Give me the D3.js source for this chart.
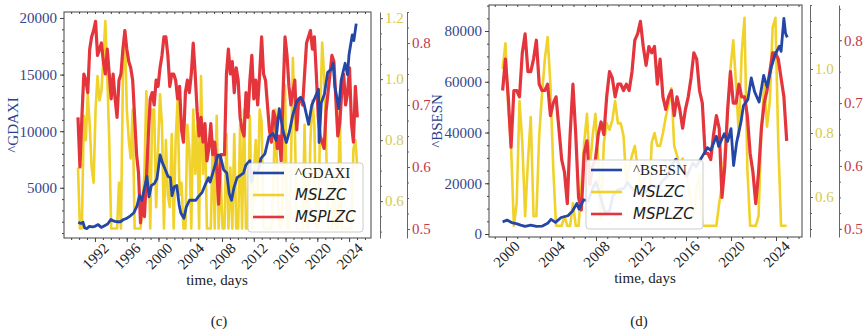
<!DOCTYPE html>
<html>
<head>
<meta charset="utf-8">
<script src="https://cdn.jsdelivr.net/npm/d3@7"></script>
<style>
  body { margin: 0; background: #fff; }
  svg { display: block; }
</style>
</head>
<body>
<div id="chart"></div>
<script>
// ---- panel (c): ^GDAXI ----
const gdaxiIndex = [
  [1989.9,1950],[1990.2,1850],[1990.5,1950],[1990.7,1450],[1991.0,1400],[1991.3,1600],[1991.7,1550],
  [1992.0,1600],[1992.4,1750],[1992.8,1500],[1993.2,1650],[1993.6,1800],[1994.0,2200],[1994.4,2050],
  [1994.8,2000],[1995.2,2000],[1995.6,2200],[1996.0,2300],[1996.5,2550],[1996.9,2800],[1997.3,3400],
  [1997.6,4300],[1997.9,3900],[1998.3,5200],[1998.55,6000],[1998.8,4200],[1999.1,5200],[1999.5,5400],
  [1999.8,5800],[2000.0,6800],[2000.2,7900],[2000.5,7200],[2000.8,6700],[2001.2,6000],[2001.5,5900],
  [2001.7,4300],[2002.0,5100],[2002.3,5200],[2002.6,3500],[2002.8,2800],[2003.2,2300],[2003.5,3300],
  [2003.9,3900],[2004.3,3900],[2004.7,3900],[2005.0,4200],[2005.5,4600],[2005.9,5300],[2006.3,5900],
  [2006.5,5500],[2007.0,6700],[2007.5,7900],[2007.8,7800],[2008.2,6600],[2008.6,6300],[2008.9,4500],
  [2009.2,3900],[2009.5,5000],[2009.9,5900],[2010.3,6100],[2010.7,6300],[2011.0,7000],[2011.5,7400],
  [2011.7,5500],[2012.0,6500],[2012.5,6300],[2012.9,7600],[2013.4,8000],[2013.9,9500],[2014.4,9800],
  [2014.8,9200],[2015.2,12000],[2015.7,10000],[2016.1,9000],[2016.5,10000],[2016.9,11400],[2017.4,12600],
  [2017.9,13000],[2018.3,12500],[2018.9,10600],[2019.3,12300],[2019.9,13300],[2020.15,13700],[2020.22,9000],
  [2020.5,12500],[2020.9,13300],[2021.3,15200],[2021.8,15500],[2022.0,16000],[2022.2,14000],[2022.7,12000],
  [2023.0,14500],[2023.5,16000],[2023.8,15000],[2024.0,16800],[2024.4,18500],[2024.6,18000],[2024.9,19500]
];
const gdaxiStart = 1989.86, gdaxiStep = 0.246;
const gdaxiMSLZC = [
  0.71,0.51,0.51,0.88,0.80,0.95,0.85,0.71,0.66,0.90,
  1.01,0.93,0.96,1.07,1.19,1.01,0.80,0.51,0.51,0.51,
  0.51,0.66,0.51,1.01,1.16,0.90,0.80,0.74,0.90,0.51,
  0.51,0.51,0.51,0.58,0.69,0.96,0.80,0.51,0.90,0.90,
  0.58,0.77,0.95,0.85,0.51,0.80,0.62,0.58,0.82,0.51,
  0.80,0.93,0.62,0.66,0.51,0.51,0.85,0.77,0.51,0.90,
  0.69,0.85,0.51,1.01,0.69,0.85,0.51,0.51,0.51,0.80,
  0.51,0.88,0.51,0.69,0.51,0.51,0.82,0.51,0.71,0.51,
  0.82,0.51,0.51,0.85,0.51,0.90,0.51,0.51,0.88,0.51,
  0.69,0.80,0.62,0.90,0.86,0.51,0.51,0.51,0.51,0.51,
  0.66,0.90,0.69,0.51,0.51,0.66,0.98,0.51,0.51,0.71,
  1.07,0.85,0.51,0.51,0.51,0.51,0.85,0.51,0.51,0.80,
  0.93,0.85,0.51,0.51,0.88,1.12,1.01,0.80,0.51,0.51,
  0.51,0.69,0.51,0.51,0.90,0.51,0.51,0.51,0.51,0.51,
  0.51,0.77,0.80,0.71
];
const gdaxiMSPLZC = [
  0.68,0.60,0.68,0.75,0.74,0.72,0.79,0.81,0.82,0.835,
  0.78,0.79,0.80,0.77,0.75,0.79,0.75,0.71,0.75,0.71,
  0.68,0.74,0.75,0.79,0.82,0.79,0.77,0.76,0.74,0.68,
  0.62,0.59,0.51,0.55,0.52,0.58,0.65,0.71,0.72,0.70,
  0.74,0.73,0.76,0.78,0.81,0.81,0.78,0.73,0.75,0.75,
  0.74,0.71,0.73,0.66,0.64,0.72,0.74,0.72,0.75,0.80,
  0.75,0.69,0.65,0.68,0.64,0.67,0.61,0.63,0.67,0.62,
  0.64,0.60,0.54,0.62,0.62,0.62,0.75,0.79,0.75,0.77,
  0.72,0.76,0.74,0.68,0.66,0.65,0.72,0.68,0.74,0.78,
  0.71,0.74,0.70,0.75,0.81,0.75,0.74,0.70,0.66,0.64,
  0.69,0.68,0.63,0.65,0.61,0.72,0.81,0.78,0.73,0.70,
  0.72,0.74,0.66,0.71,0.71,0.70,0.75,0.80,0.81,0.82,
  0.79,0.81,0.75,0.68,0.65,0.64,0.63,0.69,0.72,0.75,
  0.78,0.77,0.71,0.65,0.67,0.72,0.75,0.70,0.72,0.76,
  0.67,0.64,0.73,0.68
];
const gdaxiYears = [1992, 1996, 2000, 2004, 2008, 2012, 2016, 2020, 2024];
const gdaxiLeftTicks = [5000, 10000, 15000, 20000];
const gdaxiMslzcTicks = [0.6, 0.8, 1.0, 1.2];

// ---- panel (d): ^BSESN ----
const bsesnIndex = [
  [1999.7,4800],[2000.1,5500],[2000.5,4500],[2001.0,4000],[2001.3,3500],[2001.7,3000],[2002.2,3500],
  [2002.7,3000],[2003.2,3100],[2003.7,4200],[2004.0,5800],[2004.4,4600],[2004.9,6500],[2005.5,7200],
  [2005.9,9000],[2006.3,12000],[2006.5,9800],[2006.9,13500],[2007.3,13000],[2007.8,19000],[2008.0,20500],
  [2008.3,16000],[2008.8,8500],[2009.2,9000],[2009.5,15000],[2009.9,17300],[2010.5,18000],[2010.8,20300],
  [2011.2,18000],[2011.8,16000],[2012.0,15500],[2012.4,16500],[2012.9,19300],[2013.3,18500],[2013.6,18600],
  [2013.9,21000],[2014.3,22500],[2014.7,27000],[2015.1,29500],[2015.7,25000],[2016.1,23000],[2016.6,28000],
  [2016.9,26500],[2017.5,31000],[2017.9,34000],[2018.2,33000],[2018.7,38500],[2018.9,34500],[2019.4,39500],
  [2019.7,36500],[2020.0,41500],[2020.23,27000],[2020.5,36000],[2020.9,44500],[2021.1,50500],[2021.5,53000],
  [2021.8,61500],[2022.1,56000],[2022.5,52000],[2022.9,62500],[2023.2,58000],[2023.6,66000],[2023.9,70500],
  [2024.3,74000],[2024.45,72000],[2024.7,85000],[2024.85,79000],[2025.0,77500]
];
const bsesnStart = 1999.7, bsesnStep = 0.25;
const bsesnMSLZC = [
  1.00,1.08,0.88,0.76,0.51,0.58,0.90,0.77,0.54,0.71,
  0.85,0.54,0.54,0.79,0.92,1.03,1.10,0.95,0.69,0.51,
  0.51,0.51,0.54,0.51,0.51,0.58,0.51,0.51,0.63,0.77,
  0.86,0.69,0.79,0.86,0.71,0.53,0.77,0.83,0.81,0.84,
  0.90,0.83,0.83,0.79,0.64,0.69,0.73,0.76,0.69,0.63,
  0.57,0.54,0.56,0.77,0.80,0.76,0.76,0.80,0.85,0.89,
  0.94,0.76,0.73,0.69,0.72,0.67,0.64,0.58,0.54,0.63,
  0.67,0.51,0.51,0.51,0.51,0.51,0.51,0.58,0.64,0.74,
  0.86,1.00,1.09,0.95,0.79,1.05,1.16,0.69,0.51,0.51,
  0.51,0.54,0.81,0.95,0.82,0.90,1.13,1.16,0.77,0.51,
  0.51,0.51
];
const bsesnMSPLZC = [
  0.72,0.77,0.71,0.63,0.72,0.72,0.71,0.78,0.81,0.75,
  0.75,0.77,0.80,0.73,0.72,0.72,0.73,0.68,0.70,0.71,
  0.66,0.61,0.59,0.54,0.65,0.73,0.65,0.55,0.53,0.62,
  0.64,0.57,0.60,0.61,0.65,0.67,0.65,0.71,0.75,0.74,
  0.71,0.73,0.73,0.72,0.73,0.72,0.75,0.80,0.81,0.83,
  0.79,0.76,0.79,0.78,0.79,0.73,0.77,0.71,0.69,0.71,
  0.72,0.68,0.71,0.69,0.66,0.69,0.71,0.74,0.78,0.77,
  0.72,0.70,0.62,0.62,0.61,0.65,0.68,0.66,0.55,0.60,
  0.69,0.75,0.70,0.70,0.73,0.71,0.71,0.68,0.62,0.59,
  0.54,0.59,0.66,0.70,0.72,0.75,0.78,0.78,0.77,0.74,
  0.71,0.64
];
const bsesnYears = [2000, 2004, 2008, 2012, 2016, 2020, 2024];
const bsesnLeftTicks = [0, 20000, 40000, 60000, 80000];
const bsesnMslzcTicks = [0.6, 0.8, 1.0];

const msplzcTicks = [0.5, 0.6, 0.7, 0.8];

// colours / fonts
const cBlue = "#2446a6", cYellow = "#f0d22a", cRed = "#e4343c";
const serif = "'Liberation Serif', 'DejaVu Serif', serif";
const sans = "'DejaVu Sans', 'Liberation Sans', sans-serif";

const svg = d3.select("#chart").append("svg")
  .attr("width", 866)
  .attr("height", 332);

const toSeries = (vals, start, step) => vals.map((v, i) => [start + i * step, v]);

function renderPanel(p) {
  const g = svg.append("g");
  const x = d3.scaleLinear().domain(p.xDomain).range([p.left, p.right]);
  const yL = d3.scaleLinear().domain(p.leftDomain).range([p.bottom, p.top]);
  const yY = d3.scaleLinear().domain(p.yellowDomain).range([p.bottom, p.top]);
  const yR = d3.scaleLinear().domain(p.redDomain).range([p.bottom, p.top]);

  const clipId = "clip-" + p.id;
  svg.append("clipPath").attr("id", clipId)
    .append("rect")
    .attr("x", p.left).attr("y", p.top)
    .attr("width", p.right - p.left).attr("height", p.bottom - p.top);

  // lines
  const lines = g.append("g").attr("clip-path", `url(#${clipId})`);
  const line = ys => d3.line().x(d => x(d[0])).y(d => ys(d[1]));
  lines.append("path")
    .datum(toSeries(p.yellow, p.start, p.step))
    .attr("fill", "none").attr("stroke", cYellow).attr("stroke-width", 2.6)
    .attr("stroke-linejoin", "round")
    .attr("d", line(yY));
  lines.append("path")
    .datum(toSeries(p.red, p.start, p.step))
    .attr("fill", "none").attr("stroke", cRed).attr("stroke-width", 3.2)
    .attr("stroke-linejoin", "round")
    .attr("d", line(yR));
  lines.append("path")
    .datum(p.blue)
    .attr("fill", "none").attr("stroke", cBlue).attr("stroke-width", 2.8)
    .attr("stroke-linejoin", "round")
    .attr("d", line(yL));

  // frame
  g.append("rect")
    .attr("x", p.left).attr("y", p.top)
    .attr("width", p.right - p.left).attr("height", p.bottom - p.top)
    .attr("fill", "none").attr("stroke", "#444").attr("stroke-width", 1);

  // left axis
  const leftMinor = d3.range(p.leftDomain[0], p.leftDomain[1], 1).filter(v => v % p.leftMinor === 0 && v >= 0);
  g.append("g").attr("transform", `translate(${p.left},0)`)
    .call(d3.axisLeft(yL).tickValues(leftMinor).tickSize(2).tickSizeOuter(0).tickFormat(""))
    .call(a => a.select(".domain").remove())
    .selectAll("line").attr("stroke", "#444");
  const lAxis = g.append("g").attr("transform", `translate(${p.left},0)`)
    .call(d3.axisLeft(yL).tickValues(p.leftTicks).tickSize(4).tickSizeOuter(0).tickFormat(d3.format("d")));
  lAxis.select(".domain").remove();
  lAxis.selectAll("line").attr("stroke", "#444");
  lAxis.selectAll("text")
    .attr("font-family", serif).attr("font-size", 15).attr("fill", "#34468c");

  // bottom axis
  const yearsAll = d3.range(Math.ceil(p.xDomain[0]), Math.floor(p.xDomain[1]) + 1);
  g.append("g").attr("transform", `translate(0,${p.bottom})`)
    .call(d3.axisBottom(x).tickValues(yearsAll).tickSize(2).tickSizeOuter(0).tickFormat(""))
    .call(a => a.select(".domain").remove())
    .selectAll("line").attr("stroke", "#444");
  g.append("g").attr("transform", `translate(0,${p.top})`)
    .call(d3.axisTop(x).tickValues(yearsAll).tickSize(-2).tickSizeOuter(0).tickFormat(""))
    .call(a => a.select(".domain").remove())
    .selectAll("line").attr("stroke", "#444");
  const bAxis = g.append("g").attr("transform", `translate(0,${p.bottom})`)
    .call(d3.axisBottom(x).tickValues(p.years).tickSize(4).tickSizeOuter(0).tickFormat(d3.format("d")));
  bAxis.select(".domain").remove();
  bAxis.selectAll("line").attr("stroke", "#444");
  bAxis.selectAll("text")
    .attr("y", 0).attr("dy", "0.35em")
    .attr("transform", `translate(0,${p.labelDrop}) rotate(-45)`)
    .attr("text-anchor", "middle")
    .attr("font-family", serif).attr("font-size", 15).attr("fill", "#222");

  // right axes (MSLZC, MSPLZC)
  const rightAxis = (scale, xPos, ticks, minorStep, color) => {
    const minor = d3.range(0, 60).map(i => +(0.4 + i * minorStep).toFixed(3))
      .filter(v => v >= scale.domain()[0] && v <= scale.domain()[1]);
    g.append("g").attr("transform", `translate(${xPos},0)`)
      .call(d3.axisRight(scale).tickValues(minor).tickSize(2).tickSizeOuter(0).tickFormat(""))
      .call(a => a.select(".domain").attr("stroke", "#666"))
      .selectAll("line").attr("stroke", "#666");
    const ax = g.append("g").attr("transform", `translate(${xPos},0)`)
      .call(d3.axisRight(scale).tickValues(ticks).tickSize(3).tickSizeOuter(0).tickFormat(d3.format(".1f")));
    ax.select(".domain").remove();
    ax.selectAll("line").attr("stroke", "#666");
    ax.selectAll("text")
      .attr("x", 5)
      .attr("font-family", serif).attr("font-size", 15).attr("fill", color);
  };
  rightAxis(yY, p.yellowAxisX, p.yellowTicks, 0.05, "#d6cc4e");
  rightAxis(yR, p.redAxisX, msplzcTicks, 0.025, "#c43848");

  // left axis title
  g.append("text")
    .attr("transform", `translate(${p.leftTitleX},${(p.top + p.bottom) / 2}) rotate(-90)`)
    .attr("text-anchor", "middle")
    .attr("font-family", serif).attr("font-size", 15).attr("fill", "#2c3f8c")
    .text(p.name);

  // x axis title
  g.append("text")
    .attr("x", p.xTitleX).attr("y", p.xTitleY)
    .attr("text-anchor", "middle")
    .attr("font-family", serif).attr("font-size", 15).attr("fill", "#222")
    .text("time, days");

  // caption
  g.append("text")
    .attr("x", p.captionX).attr("y", 326)
    .attr("text-anchor", "middle")
    .attr("font-family", serif).attr("font-size", 15).attr("fill", "#222")
    .text(p.caption);

  // legend
  const lg = g.append("g").attr("transform", `translate(${p.legend[0]},${p.legend[1]})`);
  lg.append("rect")
    .attr("width", p.legend[2]).attr("height", p.legend[3])
    .attr("rx", 3)
    .attr("fill", "#fff").attr("fill-opacity", 0.9)
    .attr("stroke", "#ccc");
  const items = [
    { label: p.name, color: cBlue, font: serif, style: "normal" },
    { label: "MSLZC", color: cYellow, font: sans, style: "italic" },
    { label: "MSPLZC", color: cRed, font: sans, style: "italic" }
  ];
  lg.selectAll("line.key").data(items).join("line")
    .attr("class", "key")
    .attr("x1", 5).attr("x2", 36)
    .attr("y1", (d, i) => 10 + i * 22).attr("y2", (d, i) => 10 + i * 22)
    .attr("stroke", d => d.color).attr("stroke-width", 2.6);
  lg.selectAll("text.key").data(items).join("text")
    .attr("class", "key")
    .attr("x", 47)
    .attr("y", (d, i) => 10 + i * 22)
    .attr("dy", "0.35em")
    .attr("font-family", d => d.font)
    .attr("font-style", d => d.style)
    .attr("font-size", 15)
    .attr("fill", "#222")
    .text(d => d.label);
}

renderPanel({
  id: "c", name: "^GDAXI", caption: "(c)",
  left: 64, right: 371, top: 12, bottom: 238,
  xDomain: [1988.1, 2026.76],
  leftDomain: [565, 20530], leftTicks: gdaxiLeftTicks, leftMinor: 1000,
  yellowDomain: [0.479, 1.22], redDomain: [0.4855, 0.85], yellowTicks: gdaxiMslzcTicks,
  years: gdaxiYears, labelDrop: 18,
  blue: gdaxiIndex, yellow: gdaxiMSLZC, red: gdaxiMSPLZC,
  start: gdaxiStart, step: gdaxiStep,
  yellowAxisX: 380, redAxisX: 407,
  leftTitleX: 18, xTitleX: 217, xTitleY: 285, captionX: 219,
  legend: [248, 163, 115, 69]
});

renderPanel({
  id: "d", name: "^BSESN", caption: "(d)",
  left: 489, right: 802, top: 5, bottom: 237,
  xDomain: [1998.49, 2026.31],
  leftDomain: [-1180, 90250], leftTicks: bsesnLeftTicks, leftMinor: 5000,
  yellowDomain: [0.475, 1.2], redDomain: [0.487, 0.856], yellowTicks: bsesnMslzcTicks,
  years: bsesnYears, labelDrop: 17,
  blue: bsesnIndex, yellow: bsesnMSLZC, red: bsesnMSPLZC,
  start: bsesnStart, step: bsesnStep,
  yellowAxisX: 810, redAxisX: 839,
  leftTitleX: 442, xTitleX: 645, xTitleY: 283, captionX: 639,
  legend: [586, 160, 117, 69]
});
</script>
</body>
</html>
